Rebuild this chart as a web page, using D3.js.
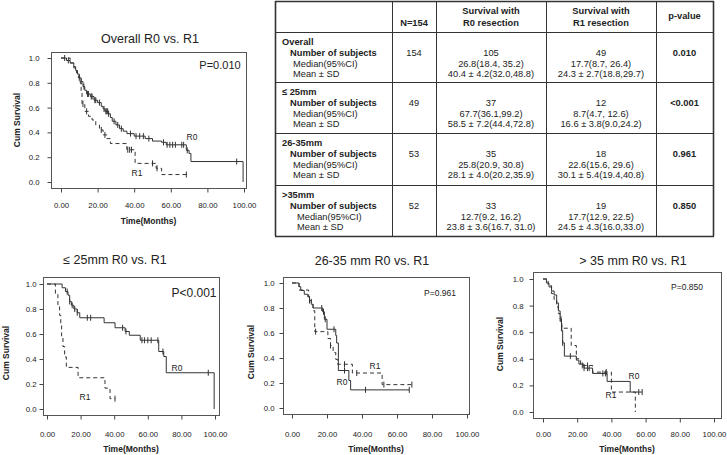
<!DOCTYPE html>
<html>
<head>
<meta charset="utf-8">
<script src="https://cdn.jsdelivr.net/npm/d3@7"></script>
<style>
  body { margin: 0; background: #fff; }
  svg { display: block; font-family: "Liberation Sans", Arial, sans-serif; }
  .frame { fill: none; stroke: #555; stroke-width: 1; }
  .km { fill: none; stroke: #333; stroke-width: 1; }
</style>
</head>
<body>
<script>
// axis ticks shared by all four plots
var timeTicks = [0, 20, 40, 60, 80, 100];
var survTicks = [0, 0.2, 0.4, 0.6, 0.8, 1.0];

// Overall
var overallR0Times = [0, 3, 5, 7, 8, 9, 10, 11, 12, 13, 14, 16, 18, 20, 22, 23, 24, 26, 27, 28, 30, 32, 34, 36, 40, 46, 50, 55, 57.5, 68.5, 70, 71, 99.5];
var overallR0Surv = [1, .98, .96, .93, .9, .87, .84, .81, .77, .74, .71, .69, .66, .64, .61, .59, .57, .55, .52, .49, .46, .43, .41, .39, .37, .35, .33, .32, .30, .255, .23, .165, 0];
var overallR0Censor = [2, 4, 11, 12.5, 14.5, 15, 16.5, 17, 18.5, 19, 21, 23.5, 24.5, 25, 25.5, 26, 29, 31, 33, 38, 41, 43, 45, 48, 56, 58, 59.5, 61, 62.5, 66, 67, 69, 96];
var overallR1Times = [0, 5, 7, 8.5, 9.5, 10.5, 11, 11.5, 13, 15, 17, 19, 21, 23, 25, 27, 36, 40.5, 52, 55];
var overallR1Surv = [1, .96, .92, .88, .84, .80, .72, .63, .57, .53, .5, .46, .42, .38, .35, .31, .26, .15, .11, .06];
var overallR1Censor = [10, 12, 14, 22, 24, 36.5, 37.5, 38.5, 50, 52.5, 68.5];

// <= 25mm
var small25R0Times = [0, 9, 11, 12.5, 13.5, 14.5, 16, 18, 19.5, 34, 40.5, 46.5, 49, 55.5, 66.5, 69.5, 71, 99.5];
var small25R0Surv = [1, .97, .94, .91, .86, .83, .80, .77, .73, .69, .65, .62, .59, .55, .46, .42, .29, 0];
var small25R0Censor = [12, 13.5, 15, 16.5, 18, 24, 26, 45, 47, 56.5, 58, 60, 62, 66, 69, 96];
var small25R1Times = [0, 5, 6.5, 7.5, 8.2, 8.7, 9.5, 10.5, 11.5, 18.5, 34.5, 37.5];
var small25R1Surv = [1, .917, .833, .75, .667, .583, .5, .417, .333, .25, .167, .083];
var small25R1Censor = [40.5];

// 26-35mm
var mid35R0Times = [0, 4, 5, 7, 9, 10, 11, 12, 17.5, 18.5, 20, 25, 25.5, 26.5, 32.5, 33.5];
var mid35R0Surv = [1, .97, .94, .91, .89, .86, .83, .80, .77, .71, .63, .58, .52, .30, .22, .145];
var mid35R0Censor = [10, 17, 18, 19, 24, 30, 42, 67];
var mid35R1Times = [0, 4, 9.5, 11, 12, 13, 20.5, 22, 23.5, 25, 26, 34.5, 51.5];
var mid35R1Surv = [1, .944, .889, .833, .778, .611, .556, .5, .444, .389, .35, .28, .187];
var mid35R1Censor = [13.5, 22, 30, 37, 52.5, 68.5];

// > 35mm
var big35R0Times = [0, 2, 3.5, 5, 6.5, 8, 9, 10, 10.8, 11.5, 12.5, 19.5, 21, 24, 29, 37.5, 51];
var big35R0Surv = [1, .97, .94, .91, .88, .82, .76, .70, .61, .52, .42, .39, .36, .33, .29, .23, .15];
var big35R0Censor = [10.5, 11.5, 16, 24, 26, 27, 35, 36.5, 56, 58];
var big35R1Times = [0, 3, 5, 6.5, 8, 9, 10, 11, 16.5, 19.5, 22, 29, 40, 54];
var big35R1Surv = [1, .95, .89, .84, .79, .74, .68, .63, .5, .4, .35, .30, .15, 0];
var big35R1Censor = [11, 23, 26, 37];

// table
var tableHeader = ["", "N=154", "Survival with|R0 resection", "Survival with|R1 resection", "p-value"];
var groupNames = ["Overall", "\u2264 25mm", "26-35mm", ">35mm"];
var rowLabels = ["Number of subjects", "Median(95%CI)", "Mean \u00b1 SD"];
var nTotals = ["154", "49", "53", "52"];
var r0Subjects = ["105", "37", "35", "33"];
var r0Median = ["26.8(18.4, 35.2)", "67.7(36.1,99.2)", "25.8(20.9, 30.8)", "12.7(9.2, 16.2)"];
var r0Mean = ["40.4 \u00b1 4.2(32.0,48.8)", "58.5 \u00b1 7.2(44.4,72.8)", "28.1 \u00b1 4.0(20.2,35.9)", "23.8 \u00b1 3.6(16.7, 31.0)"];
var r1Subjects = ["49", "12", "18", "19"];
var r1Median = ["17.7(8.7, 26.4)", "8.7(4.7, 12.6)", "22.6(15.6, 29.6)", "17.7(12.9, 22.5)"];
var r1Mean = ["24.3 \u00b1 2.7(18.8,29.7)", "16.6 \u00b1 3.8(9.0,24.2)", "30.1 \u00b1 5.4(19.4,40.8)", "24.5 \u00b1 4.3(16.0,33.0)"];
var pValues = ["0.010", "<0.001", "0.961", "0.850"];

var svg = d3.select("body").append("svg")
    .attr("width", 727)
    .attr("height", 455);

var plots = [
    {
        title: "Overall R0 vs. R1", p: "P=0.010", pSize: 11, pPos: [220, 69],
        frame: [51, 52, 246, 188], xr: [61, 244], yr: [182, 58],
        titlePos: [150, 43], yLabX: 17, yLabY: 120, xLabY: 224, tickLabelY: 207, yTickEnd: 39,
        r0: [overallR0Times, overallR0Surv, overallR0Censor], r1: [overallR1Times, overallR1Surv, overallR1Censor],
        r0Lab: [192, 140], r1Lab: [137, 176]
    },
    {
        title: "\u2264 25mm R0 vs. R1", p: "P<0.001", pSize: 12, pPos: [194, 297],
        frame: [43, 277, 219, 415], xr: [47, 215], yr: [409, 284],
        titlePos: [115, 264], yLabX: 6, yLabY: 353, xLabY: 452, tickLabelY: 436, yTickEnd: 36,
        r0: [small25R0Times, small25R0Surv, small25R0Censor], r1: [small25R1Times, small25R1Surv, small25R1Censor],
        r0Lab: [177, 371], r1Lab: [85, 400]
    },
    {
        title: "26-35 mm R0 vs. R1", p: "P=0.961", pSize: 8.5, pPos: [440, 296],
        frame: [283, 277, 469, 414], xr: [292, 467], yr: [408, 283],
        titlePos: [372, 265], yLabX: 251, yLabY: 352, xLabY: 452, tickLabelY: 436, yTickEnd: 274,
        r0: [mid35R0Times, mid35R0Surv, mid35R0Censor], r1: [mid35R1Times, mid35R1Surv, mid35R1Censor],
        r0Lab: [342, 385], r1Lab: [375, 369]
    },
    {
        title: "> 35 mm R0 vs. R1", p: "P=0.850", pSize: 8.5, pPos: [687, 290],
        frame: [533, 272, 721, 418], xr: [543, 714], yr: [412, 279],
        titlePos: [633, 265], yLabX: 500, yLabY: 344, xLabY: 452, tickLabelY: 436, yTickEnd: 523,
        r0: [big35R0Times, big35R0Surv, big35R0Censor], r1: [big35R1Times, big35R1Surv, big35R1Censor],
        r0Lab: [634, 379], r1Lab: [611, 398]
    }
];

plots.forEach(drawKM);
drawTable();

function survAt(times, surv, t) {
    var s = surv[0];
    for (var i = 0; i < times.length; i++) {
        if (times[i] <= t) s = surv[i];
    }
    return s;
}

function drawKM(cfg) {
    var g = svg.append("g");
    var x = d3.scaleLinear().domain([0, 100]).range(cfg.xr);
    var y = d3.scaleLinear().domain([0, 1]).range(cfg.yr);
    var f = cfg.frame;

    g.append("text")
        .attr("x", cfg.titlePos[0]).attr("y", cfg.titlePos[1])
        .attr("text-anchor", "middle")
        .style("font-size", "12.5px").style("fill", "#222")
        .text(cfg.title);

    g.append("rect").attr("class", "frame")
        .attr("x", f[0] + 0.5).attr("y", f[1] + 0.5)
        .attr("width", f[2] - f[0]).attr("height", f[3] - f[1]);

    // ticks outside the frame
    var xAxis = d3.axisBottom(x).tickValues(timeTicks).tickSize(4).tickFormat(d3.format(".2f"));
    var xg = g.append("g").attr("transform", "translate(0," + (f[3] + 0.5) + ")").call(xAxis);
    xg.select(".domain").remove();
    xg.selectAll("line").attr("stroke", "#444");
    xg.selectAll("text").attr("y", null).attr("dy", null)
        .attr("transform", "translate(0," + (cfg.tickLabelY - f[3]) + ")")
        .style("font-size", "7.8px").style("font-family", "Liberation Sans, Arial").style("fill", "#222");

    var yAxis = d3.axisLeft(y).tickValues(survTicks).tickSize(4).tickFormat(d3.format(".1f"));
    var yg = g.append("g").attr("transform", "translate(" + (f[0] + 0.5) + ",0)").call(yAxis);
    yg.select(".domain").remove();
    yg.selectAll("line").attr("stroke", "#444");
    yg.selectAll("text").attr("x", cfg.yTickEnd - f[0])
        .style("font-size", "7.8px").style("font-family", "Liberation Sans, Arial").style("fill", "#222");

    g.append("text")
        .attr("x", (f[0] + f[2]) / 2).attr("y", cfg.xLabY)
        .attr("text-anchor", "middle")
        .style("font-size", "8.5px").style("font-weight", "bold").style("fill", "#222")
        .text("Time(Months)");

    g.append("text")
        .attr("transform", "translate(" + cfg.yLabX + "," + cfg.yLabY + ") rotate(-90)")
        .attr("text-anchor", "middle").attr("dy", "0.35em")
        .style("font-size", "8.5px").style("font-weight", "bold").style("fill", "#222")
        .text("Cum Survival");

    g.append("text")
        .attr("x", cfg.pPos[0]).attr("y", cfg.pPos[1])
        .attr("text-anchor", "middle")
        .style("font-size", cfg.pSize + "px").style("fill", "#222")
        .text(cfg.p);

    var line = d3.line()
        .x(function(d) { return x(d[0]); })
        .y(function(d) { return y(d[1]); })
        .curve(d3.curveStepAfter);

    [[cfg.r1, "4,3"], [cfg.r0, null]].forEach(function(c) {
        var times = c[0][0], surv = c[0][1], cens = c[0][2];
        var pts = times.map(function(t, i) { return [t, surv[i]]; });
        var tEnd = d3.max(cens.concat(times));
        if (tEnd > times[times.length - 1]) pts.push([tEnd, surv[surv.length - 1]]);
        g.append("path").attr("class", "km")
            .attr("d", line(pts))
            .style("stroke-dasharray", c[1]);
        g.selectAll(null)
            .data(cens)
            .enter().append("line")
            .attr("class", "km")
            .attr("x1", function(d) { return x(d); })
            .attr("x2", function(d) { return x(d); })
            .attr("y1", function(d) { return y(survAt(times, surv, d)) - 3; })
            .attr("y2", function(d) { return y(survAt(times, surv, d)) + 3; });
    });

    g.append("text").attr("x", cfg.r0Lab[0]).attr("y", cfg.r0Lab[1])
        .attr("text-anchor", "middle").style("font-size", "8.5px").style("fill", "#222").text("R0");
    g.append("text").attr("x", cfg.r1Lab[0]).attr("y", cfg.r1Lab[1])
        .attr("text-anchor", "middle").style("font-size", "8.5px").style("fill", "#222").text("R1");
}

function drawTable() {
    var colX = [275, 392, 436, 546, 656, 713];
    var rowY = [1, 32, 82, 133, 185, 236];
    var t = svg.append("g").style("font-size", "9.3px").style("fill", "#222");

    // grid
    colX.forEach(function(cx, i) {
        t.append("line").attr("x1", cx + 0.5).attr("x2", cx + 0.5)
            .attr("y1", rowY[0]).attr("y2", rowY[rowY.length - 1])
            .attr("stroke", "#333").attr("stroke-width", (i === 0 || i === colX.length - 1) ? 1.6 : 1);
    });
    rowY.forEach(function(ry, i) {
        t.append("line").attr("x1", colX[0]).attr("x2", colX[colX.length - 1] + 1)
            .attr("y1", ry + 0.5).attr("y2", ry + 0.5)
            .attr("stroke", "#333").attr("stroke-width", (i === 0 || i === rowY.length - 1) ? 1.6 : 1);
    });

    var centers = d3.range(colX.length - 1).map(function(i) { return (colX[i] + colX[i + 1]) / 2; });

    // header
    tableHeader.forEach(function(h, i) {
        if (!h) return;
        var parts = h.split("|");
        var y0 = parts.length > 1 ? 13.5 : (i === 1 ? 26 : 19);
        parts.forEach(function(p, k) {
            t.append("text").attr("x", centers[i]).attr("y", y0 + k * 12)
                .attr("text-anchor", "middle").style("font-weight", "bold").text(p);
        });
    });

    groupNames.forEach(function(name, r) {
        var top = rowY[r + 1];
        var lines = [top + 13, top + 23.8, top + 34.6, top + 45.4];
        t.append("text").attr("x", 282).attr("y", lines[0]).style("font-weight", "bold").text(name);
        t.append("text").attr("x", 290).attr("y", lines[1]).style("font-weight", "bold").text(rowLabels[0]);
        t.append("text").attr("x", r === 3 ? 297 : 293).attr("y", lines[2]).text(rowLabels[1]);
        t.append("text").attr("x", r === 3 ? 297 : 293).attr("y", lines[3]).text(rowLabels[2]);

        t.append("text").attr("x", centers[1]).attr("y", lines[1]).attr("text-anchor", "middle").text(nTotals[r]);
        [[r0Subjects, r0Median, r0Mean], [r1Subjects, r1Median, r1Mean]].forEach(function(col, c) {
            col.forEach(function(arr, k) {
                t.append("text").attr("x", centers[2 + c]).attr("y", lines[1 + k])
                    .attr("text-anchor", "middle").text(arr[r]);
            });
        });
        t.append("text").attr("x", centers[4]).attr("y", lines[1])
            .attr("text-anchor", "middle").style("font-weight", "bold").text(pValues[r]);
    });
}
</script>
</body>
</html>
